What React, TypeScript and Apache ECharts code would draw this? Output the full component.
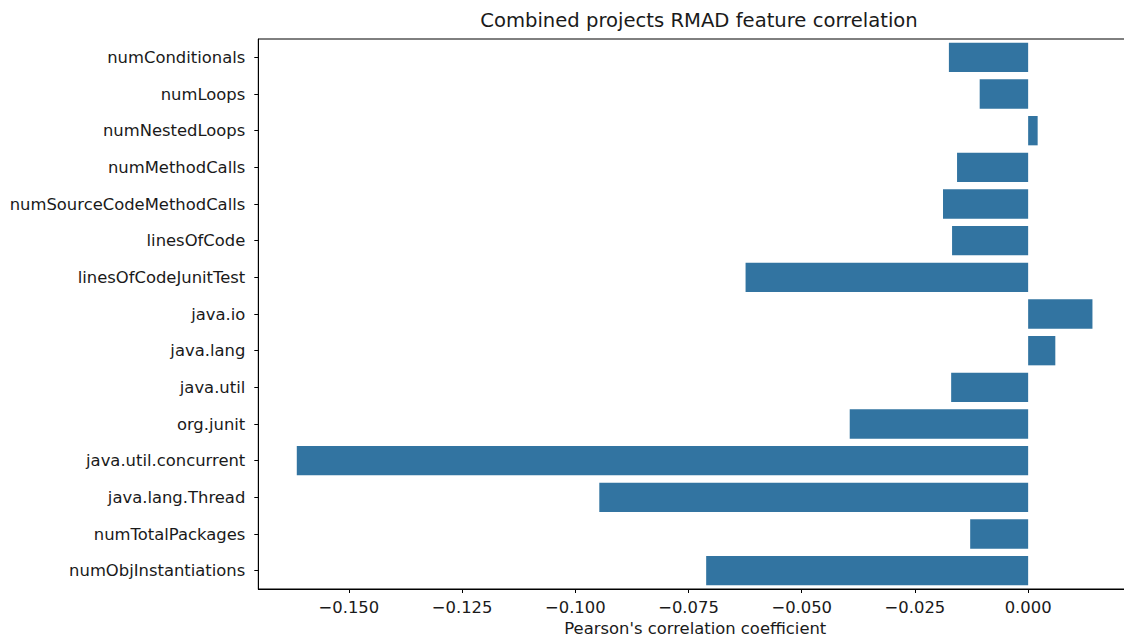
import React, { useEffect, useRef } from "react";
import * as echarts from "echarts";

// Feature names, top to bottom
const features: string[] = [
  "numConditionals",
  "numLoops",
  "numNestedLoops",
  "numMethodCalls",
  "numSourceCodeMethodCalls",
  "linesOfCode",
  "linesOfCodeJunitTest",
  "java.io",
  "java.lang",
  "java.util",
  "org.junit",
  "java.util.concurrent",
  "java.lang.Thread",
  "numTotalPackages",
  "numObjInstantiations",
];

// Pearson's correlation coefficient per feature
const correlations: number[] = [
  -0.0175, -0.0107, 0.0021, -0.0157, -0.0188, -0.0168, -0.0624, 0.0142, 0.006,
  -0.017, -0.0394, -0.1615, -0.0947, -0.0128, -0.0711,
];

// X tick positions
const xTicks: number[] = [-0.15, -0.125, -0.1, -0.075, -0.05, -0.025, 0];

const FONT = "DejaVu Sans";
const TEXT = "#1a1a1a";

export default function App() {
  const ref = useRef<HTMLDivElement>(null);

  useEffect(() => {
    if (!ref.current) return;
    const chart = echarts.init(ref.current, undefined, { renderer: "svg" });
    const fmt = (v: number) => {
      const s = (Math.abs(v) < 1e-9 ? 0 : v).toFixed(3);
      return s.replace("-", "\u2212");
    };
    chart.setOption({
      animation: false,
      backgroundColor: "#ffffff",
      textStyle: { fontFamily: FONT },
      title: {
        text: "Combined projects RMAD feature correlation",
        left: 694,
        top: 5,
        textAlign: "center",
        textStyle: {
          fontFamily: FONT,
          fontSize: 19.6,
          fontWeight: "normal",
          color: TEXT,
        },
      },
      grid: {
        left: 258.3,
        top: 39,
        width: 874,
        height: 550,
        show: true,
        borderColor: "#000",
        borderWidth: 1,
        backgroundColor: "transparent",
        containLabel: false,
        outerBoundsMode: "none",
      },
      xAxis: {
        type: "value",
        min: -0.17,
        max: 0.023,
        name: "Pearson's correlation coefficient",
        nameLocation: "middle",
        nameGap: 31,
        nameTextStyle: { fontFamily: FONT, fontSize: 16.4, color: TEXT },
        axisLine: { show: true, onZero: false, lineStyle: { color: "#000", width: 1 } },
        axisTick: {
          show: true,
          length: 4,
          customValues: xTicks,
          lineStyle: { color: "#000", width: 1 },
        },
        axisLabel: {
          customValues: xTicks,
          formatter: fmt,
          fontFamily: FONT,
          fontSize: 16.4,
          color: TEXT,
          margin: 10,
        },
        splitLine: { show: false },
      },
      yAxis: {
        type: "category",
        data: features,
        inverse: true,
        axisLine: { show: true, onZero: false, lineStyle: { color: "#000", width: 1 } },
        axisTick: {
          show: true,
          alignWithLabel: true,
          length: 4,
          lineStyle: { color: "#000", width: 1 },
        },
        axisLabel: {
          fontFamily: FONT,
          fontSize: 16.4,
          color: TEXT,
          margin: 13,
        },
        splitLine: { show: false },
      },
      series: [
        {
          type: "bar",
          data: correlations,
          barCategoryGap: "20%",
          itemStyle: { color: "#3274a1" },
        },
      ],
    });
    return () => chart.dispose();
  }, []);

  return (
    <div
      ref={ref}
      style={{ position: "fixed", left: 0, top: 0, width: 1124, height: 638 }}
    />
  );
}
